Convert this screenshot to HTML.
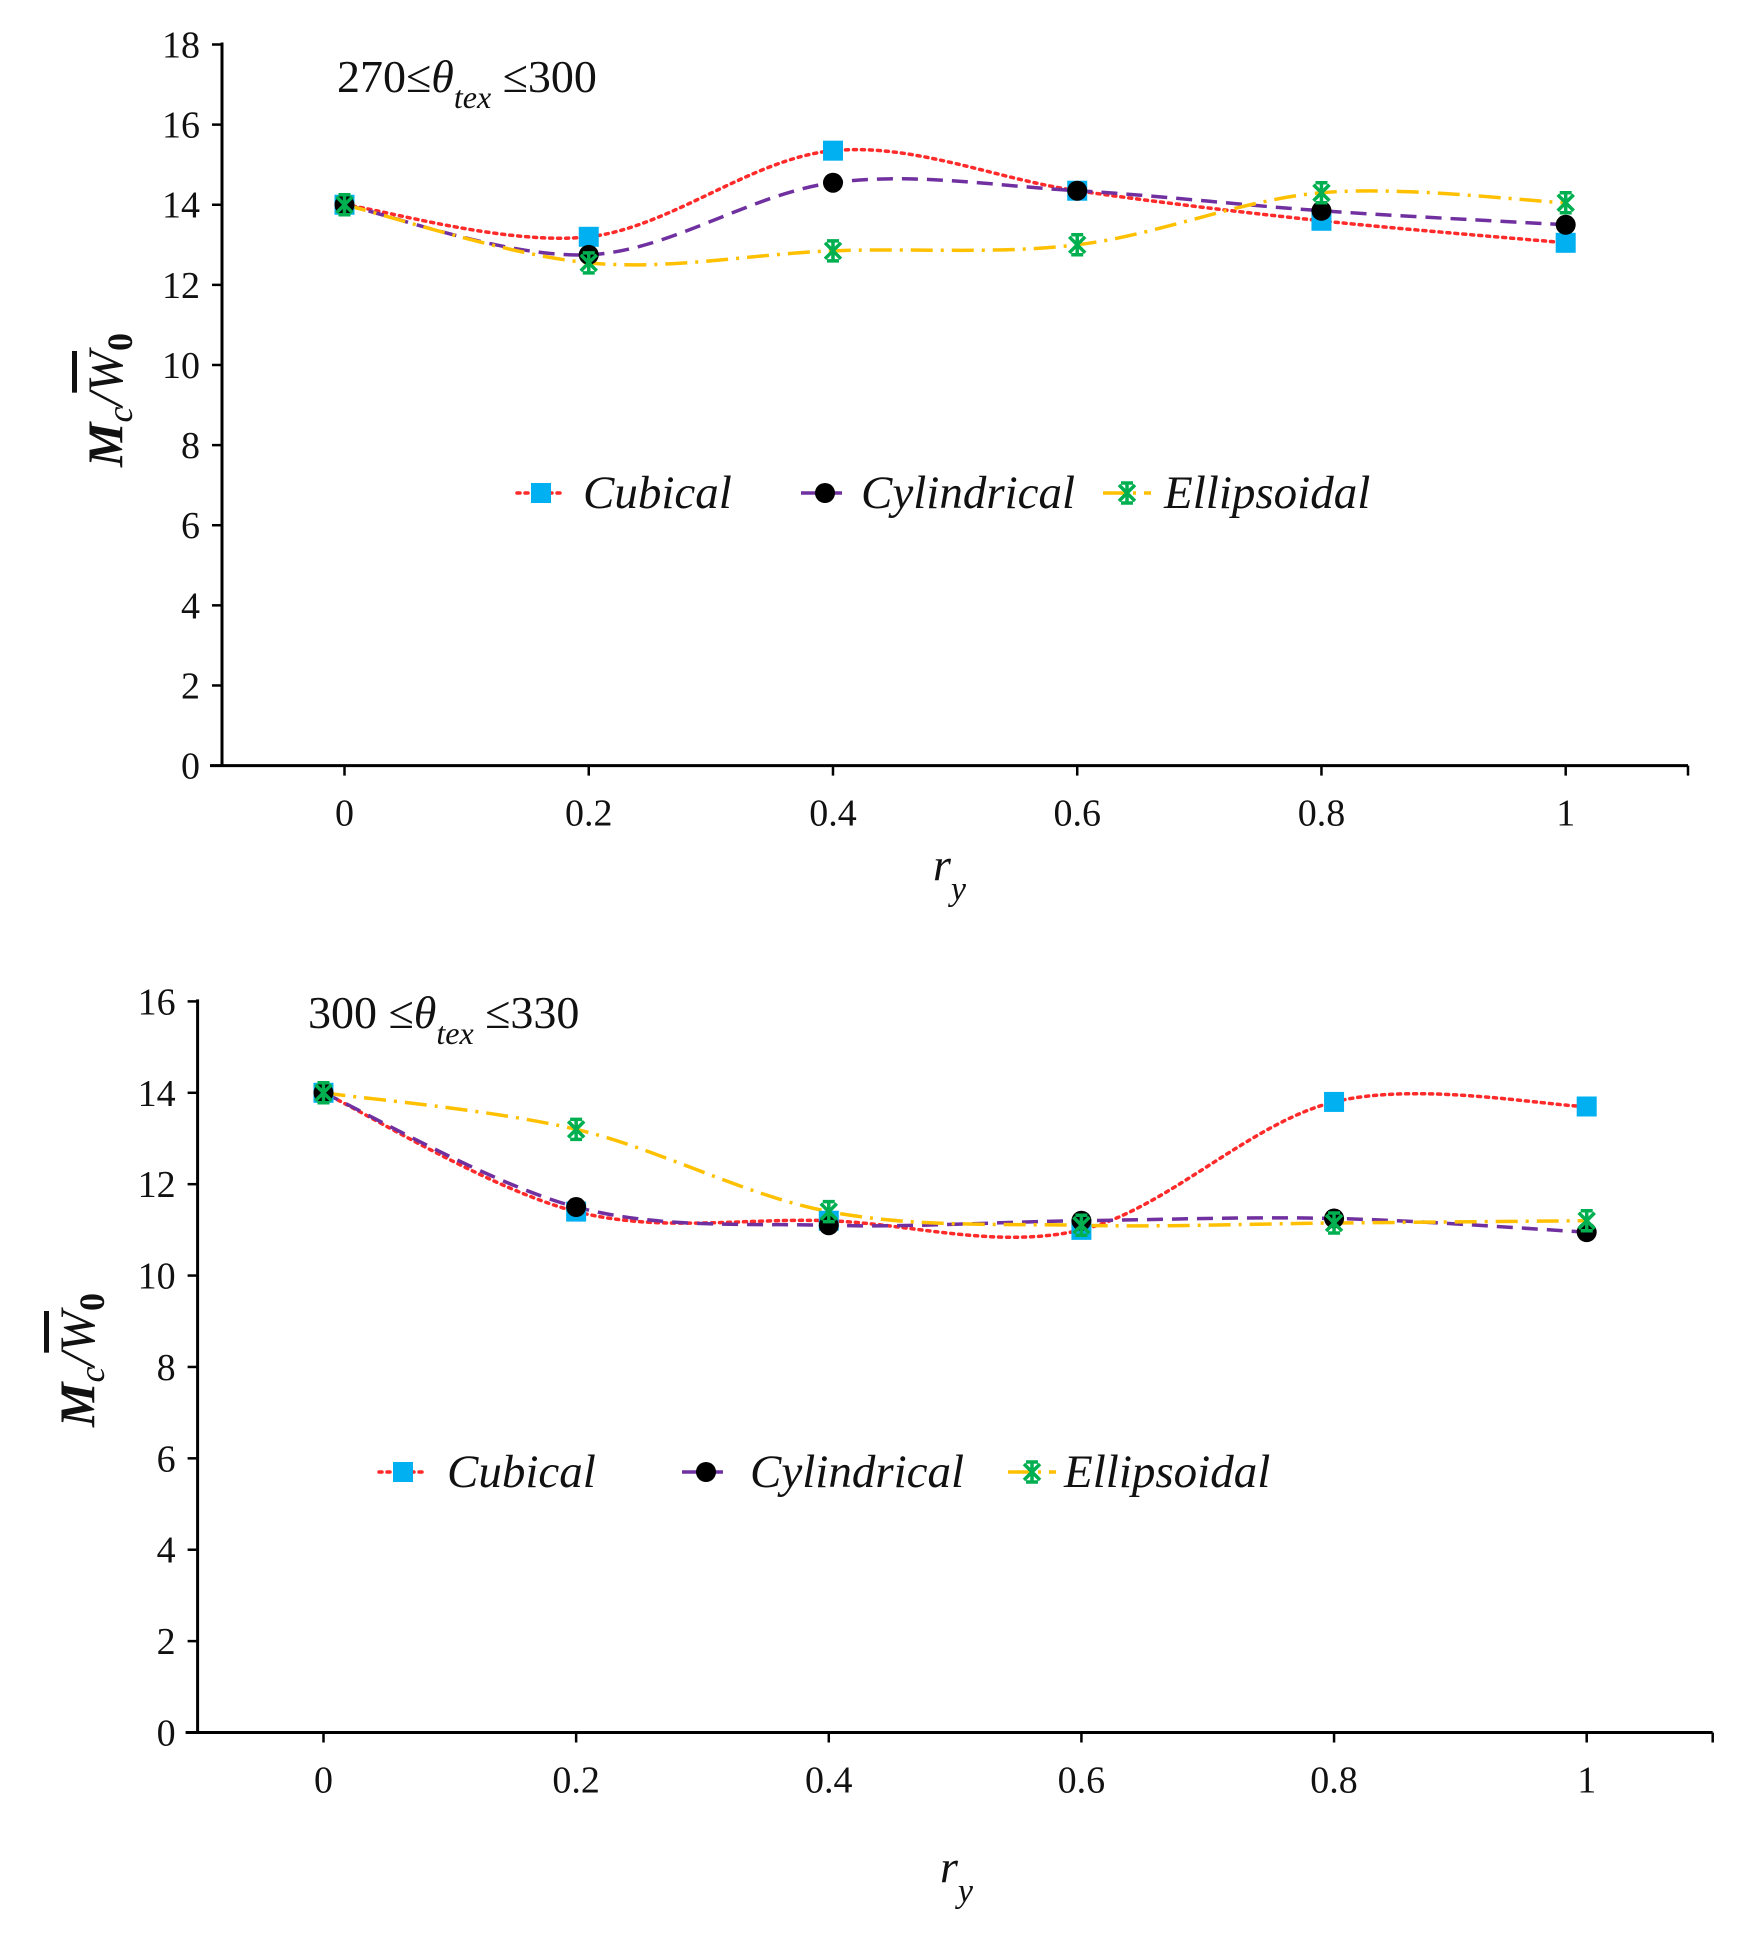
<!DOCTYPE html>
<html><head><meta charset="utf-8">
<style>
html,body{margin:0;padding:0;background:#fff;}
svg{display:block;}
text{font-family:"Liberation Serif",serif;fill:#111;}
</style></head>
<body>
<svg id="chart" width="1741" height="1933" viewBox="0 0 1741 1933" xmlns="http://www.w3.org/2000/svg"></svg>
<script>
// shared x categories
const xCats = [0, 0.2, 0.4, 0.6, 0.8, 1];
const xTickLabels = ["0", "0.2", "0.4", "0.6", "0.8", "1"];
// top chart data (270 ≤ θtex ≤ 300)
const topCubical = [14, 13.2, 15.35, 14.35, 13.6, 13.05];
const topCylindrical = [14, 12.75, 14.55, 14.35, 13.85, 13.5];
const topEllipsoidal = [14, 12.55, 12.85, 13.0, 14.3, 14.05];
const topYTicks = [0, 2, 4, 6, 8, 10, 12, 14, 16, 18];
// bottom chart data (300 ≤ θtex ≤ 330)
const botCubical = [14, 11.4, 11.2, 11.0, 13.8, 13.7];
const botCylindrical = [14, 11.5, 11.1, 11.2, 11.25, 10.95];
const botEllipsoidal = [14, 13.2, 11.4, 11.1, 11.15, 11.2];
const botYTicks = [0, 2, 4, 6, 8, 10, 12, 14, 16];

const NS = "http://www.w3.org/2000/svg";
const svg = document.getElementById("chart");
function mk(tag, attrs, parent){
  const e = document.createElementNS(NS, tag);
  for (const k in attrs) e.setAttribute(k, attrs[k]);
  (parent || svg).appendChild(e);
  return e;
}
function spline(pts){
  let d = "M" + pts[0][0] + "," + pts[0][1];
  for (let i = 0; i < pts.length - 1; i++){
    const p0 = pts[Math.max(i-1,0)], p1 = pts[i], p2 = pts[i+1], p3 = pts[Math.min(i+2, pts.length-1)];
    const t = 1/6;
    const c1 = [p1[0] + (p2[0]-p0[0])*t, p1[1] + (p2[1]-p0[1])*t];
    const c2 = [p2[0] - (p3[0]-p1[0])*t, p2[1] - (p3[1]-p1[1])*t];
    d += " C" + c1 + " " + c2 + " " + p2;
  }
  return d;
}
const styles = {
  cubical: {color:"#ff2a2a", dash:"3,5", cap:"round"},
  cylindrical: {color:"#7030a0", dash:"16,9", cap:"butt"},
  ellipsoidal: {color:"#ffc000", dash:"22,8,3,8", cap:"butt"}
};
function marker(kind, x, y, g){
  if (kind === "cubical"){
    const m = mk("rect", {x:x-10, y:y-10, width:20, height:20, fill:"#00b0f0"}, g);
    
    
  } else if (kind === "cylindrical"){
    const m = mk("circle", {cx:x, cy:y, r:10, fill:"#000"}, g);
    
    
  } else {
    const m = mk("path", {d:`M${x-8},${y-8}L${x+8},${y+8}M${x-8},${y+8}L${x+8},${y-8}M${x},${y-10}V${y+10}M${x-6},${y-10}H${x+6}M${x-6},${y+10}H${x+6}`, stroke:"#00b050", "stroke-width":3.5, fill:"none"}, g);
    
    
  }
}
function drawChart(cfg){
  const g = mk("g", {});
  
  
  const xs = v => cfg.x0 + (cfg.x1 - cfg.x0) * v;
  const ys = v => cfg.y0 - (cfg.y0 - cfg.yTop) * v / cfg.yMax;
  const ya = mk("line", {x1:cfg.ax, y1:cfg.yTop-2, x2:cfg.ax, y2:cfg.y0, stroke:"#000", "stroke-width":3}, g);
  
  
  const xa = mk("line", {x1:cfg.ax-12, y1:cfg.y0, x2:cfg.axR, y2:cfg.y0, stroke:"#000", "stroke-width":3}, g);
  
  
  cfg.yTicks.forEach(v => {
    const y = ys(v);
    mk("line", {x1:cfg.ax-10, y1:y, x2:cfg.ax, y2:y, stroke:"#000", "stroke-width":2.5}, g);
    const t = mk("text", {x:cfg.ax-22, y:y+13, "text-anchor":"end", "font-size":38}, g);
    t.textContent = v;
    
    
  });
  for (let i = 0; i <= 5; i++){
    const x = cfg.x0 + i*(cfg.x1-cfg.x0)/5;
    mk("line", {x1:x, y1:cfg.y0, x2:x, y2:cfg.y0+10, stroke:"#000", "stroke-width":2.5}, g);
  }
  mk("line", {x1:cfg.axR, y1:cfg.y0, x2:cfg.axR, y2:cfg.y0+10, stroke:"#000", "stroke-width":2.5}, g);
  xCats.forEach((v, i) => {
    const t = mk("text", {x:xs(v), y:cfg.y0+60, "text-anchor":"middle", "font-size":38}, g);
    t.textContent = xTickLabels[i];
    
    
  });
  const series = [["cubical", cfg.cub], ["cylindrical", cfg.cyl], ["ellipsoidal", cfg.ell]];
  series.forEach(([k, vals]) => {
    const s = styles[k];
    const pts = vals.map((v, i) => [xs(xCats[i]), ys(v)]);
    const p = mk("path", {d:spline(pts), fill:"none", stroke:s.color, "stroke-width":3.5, "stroke-dasharray":s.dash, "stroke-linecap":s.cap}, g);
    
    
  });
  series.forEach(([k, vals]) => {
    vals.forEach((v, i) => marker(k, xs(xCats[i]), ys(v), g));
  });
  const tt = mk("text", {x:cfg.titleX, y:cfg.titleY, "font-size":46}, g);
  
  
  tt.innerHTML = cfg.titleA + '≤<tspan font-style="italic">θ</tspan><tspan font-style="italic" font-size="32" dy="16">tex</tspan><tspan dy="-16"> ' + cfg.titleB + '</tspan>';
  const yl = mk("text", {transform:`translate(${cfg.ylX},${cfg.ylY}) rotate(-90)`, "text-anchor":"middle", "font-size":50, "font-style":"italic", "font-weight":"bold"}, g);
  
  
  yl.innerHTML = 'M<tspan font-size="36" dy="10" font-weight="normal">c</tspan><tspan dy="-10" font-weight="normal">/</tspan><tspan text-decoration="overline" font-weight="normal">W</tspan><tspan font-size="36" font-style="normal" dy="10">0</tspan>';
  const xl = mk("text", {x:cfg.xlX, y:cfg.xlY, "font-size":46, "font-style":"italic"}, g);
  
  
  xl.innerHTML = 'r<tspan font-size="34" dy="20">y</tspan>';
  const lg = mk("g", {}, g);
  
  
  const names = {cubical:"Cubical", cylindrical:"Cylindrical", ellipsoidal:"Ellipsoidal"};
  cfg.leg.forEach(([k, lx, tx]) => {
    const s = styles[k];
    const e = mk("g", {}, lg);
    
    
    mk("line", {x1:lx-24, y1:cfg.legY, x2:lx+24, y2:cfg.legY, stroke:s.color, "stroke-width":3.5, "stroke-dasharray":s.dash, "stroke-linecap":s.cap}, e);
    marker(k, lx, cfg.legY, e);
    const t = mk("text", {x:tx, y:cfg.legY+15, "font-size":47, "font-style":"italic"}, e);
    t.textContent = names[k];
  });
}
drawChart({name:"top-chart", ax:222, axR:1688, x0:344.5, x1:1565.7, y0:765.6, yTop:44.5, yMax:18, yTicks:topYTicks,
  cub:topCubical, cyl:topCylindrical, ell:topEllipsoidal,
  titleX:337, titleY:92, titleA:"270", titleB:"≤300",
  ylX:122, ylY:400, xlX:933, xlY:880,
  legY:493, leg:[["cubical",541,583],["cylindrical",825,861],["ellipsoidal",1127,1164]]});
drawChart({name:"bottom-chart", ax:197.6, axR:1712.7, x0:323.5, x1:1586.7, y0:1732.5, yTop:1001.4, yMax:16, yTicks:botYTicks,
  cub:botCubical, cyl:botCylindrical, ell:botEllipsoidal,
  titleX:308, titleY:1028, titleA:"300 ", titleB:"≤330",
  ylX:94, ylY:1360, xlX:940, xlY:1882,
  legY:1472, leg:[["cubical",403,447],["cylindrical",706,750],["ellipsoidal",1032,1064]]});
</script>
</body></html>
